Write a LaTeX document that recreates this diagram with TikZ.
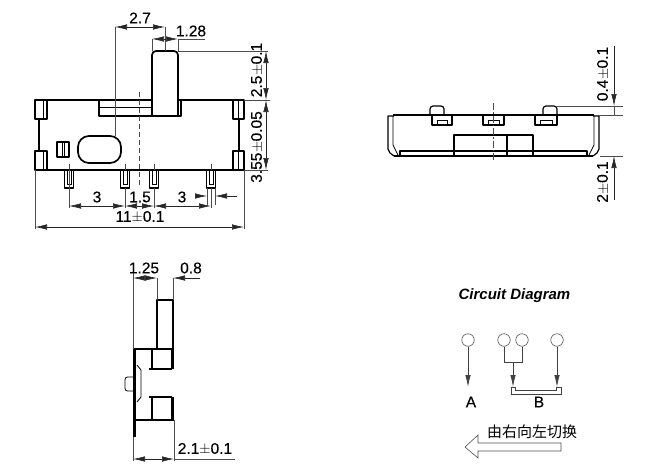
\documentclass[tikz,border=0pt]{standalone}
\usepackage{fontspec}
\setmainfont{Liberation Sans}
\newfontfamily\dimfont[FakeBold = 0.35]{Liberation Sans}
\newfontfamily\cjkfont{Noto Sans CJK SC}
\usetikzlibrary{arrows.meta}
\usetikzlibrary{positioning}
\begin{document}
\begin{tikzpicture}
		[
			x = 1pt, y = -1pt,
			> = {Latex[length = 12pt, width = 5.5pt]},
			outline/.style = {draw = black, line width = 1.7pt, line join = round},
			detail/.style = {draw = black, line width = 0.8pt},
			extline/.style = {draw = black!70, line width = 0.5pt},
			dimline/.style = {draw = black!85, line width = 0.6pt, <->},
			tipend/.style = {draw = black!85, line width = 0.6pt, ->},
			centerline/.style = {draw = black!70, line width = 0.6pt, dash pattern = on 5pt off 3pt},
			dimlabel/.style = {inner sep = 0pt, text = black, font = \dimfont\fontsize{15.5}{15.5}\selectfont},
			vertlabel/.style = {dimlabel, rotate = 90},
			wire/.style = {draw = black!75, line width = 0.8pt},
			terminal/.style = {circle, draw = black!70, line width = 0.6pt, minimum size = 12.5pt, inner sep = 0pt},
		]
			\useasboundingbox (0,0) rectangle (672,474);
			%
			% front view
			\draw [outline] (35,100) -- (244,100);
			\draw [outline] (35,170) -- (244,170);
			\draw [outline] (39,119) -- (39,151);
			\draw [outline] (239,119) -- (239,151);
			\draw [outline, line width = 1.4pt] (35,100) rectangle (47,119);
			\draw [outline, line width = 1.4pt] (35,151) rectangle (47,170);
			\draw [outline, line width = 1.4pt] (233,100) rectangle (244,119);
			\draw [outline, line width = 1.4pt] (233,151) rectangle (244,170);
			\draw [detail] (43,100) -- (43,119) (43,151) -- (43,170);
			\draw [detail] (238,100) -- (238,119) (238,151) -- (238,170);
			\draw [outline] (99,100) rectangle (181,116);
			\draw [detail] (99,107) -- (152,107);
			\draw [outline, fill = white, rounded corners = 4pt] (152,116) -- (152,51) -- (178,51) -- (178,116);
			\draw [outline] (99,116) -- (181,116);
			\draw [outline] (57,142) rectangle (69,157);
			\draw [detail] (62,142) -- (62,157) (64,142) -- (64,157);
			\draw [outline, rounded corners = 11pt] (78,136) rectangle (121,163);
			\foreach \pinx in {69,125,154,211}
			{
				\draw [outline, line width = 1.2pt] (\pinx-4.5,170) rectangle (\pinx+4.5,188);
				\draw [detail, line width = 0.4pt] (\pinx-2,170) -- (\pinx-2,184) -- (\pinx+2,184) -- (\pinx+2,170);
				\draw [extline] (\pinx,164) -- (\pinx,170);
			}
			\draw [centerline] (139,92) -- (139,188);
			%
			% front view dimensions
			\draw [extline] (115,27) -- (115,136);
			\draw [extline] (165,27) -- (165,51);
			\draw [dimline] (115,27) -- (165,27);
			\node (dimtop) [dimlabel] at (140,18) {2.7};
			\draw [extline] (152,39) -- (152,51);
			\draw [extline] (178,39) -- (205,39);
			\draw [extline] (178,39) -- (178,51);
			\draw [dimline] (152,39) -- (178,39);
			\node (dimslider) [dimlabel] at (191,31) {1.28};
			\draw [extline] (178,51) -- (268,51);
			\draw [extline] (244,100) -- (270,100);
			\draw [extline] (244,170) -- (268,170);
			\draw [dimline] (266,51) -- (266,100);
			\draw [dimline] (266,100) -- (266,170);
			\node (dimupper) [vertlabel] at (257,70) {2.5$\pm$0.1};
			\node (dimlower) [vertlabel] at (257,147) {3.55$\pm$0.05};
			\draw [extline] (69,170) -- (69,208);
			\draw [extline] (125,188) -- (125,208);
			\draw [extline] (154,188) -- (154,208);
			\draw [extline] (211,188) -- (211,208);
			\draw [dimline] (69,206) -- (125,206);
			\draw [dimline] (125,206) -- (154,206);
			\draw [dimline] (154,206) -- (211,206);
			\node (dimpinleft) [dimlabel] at (97,197) {3};
			\node (dimpinmid) [dimlabel] at (140,197) {1.5};
			\node (dimpinright) [dimlabel] at (182,197) {3};
			\draw [extline] (207,188) -- (207,205);
			\draw [extline] (215,188) -- (215,205);
			\draw [tipend] (195,196) -- (207,196);
			\draw [tipend] (237,196) -- (215,196);
			\draw [extline] (35,170) -- (35,229);
			\draw [extline] (244,170) -- (244,229);
			\draw [dimline] (35,227) -- (244,227);
			\node (dimwidth) [dimlabel] at (140,217) {11$\pm$0.1};
			%
			% end view
			\draw [outline] (393,115) -- (594,115);
			\draw [outline] (394,156) -- (593,156);
			\draw [outline, line width = 1.2pt] (394,116) -- (388,116) -- (388,149) -- (390,153) -- (394,156);
			\draw [outline, line width = 1.2pt] (593,116) -- (599,116) -- (599,149) -- (597,153) -- (593,156);
			\draw [detail] (393,116) -- (393,136) -- (393,145) -- (398,155);
			\draw [detail] (594,116) -- (594,136) -- (594,145) -- (589,155);
			\draw [outline, line width = 1.2pt] (400,156) -- (400,151) -- (587,151) -- (587,156);
			\draw [outline, line width = 1.3pt] (454,156) -- (454,135) -- (533,135) -- (533,156);
			\draw [outline, line width = 1.3pt] (507,135) -- (507,156);
			\foreach \tabx/\tabw in {432/20,483/21,535/22}
			{
				\draw [outline, line width = 1.3pt] (\tabx,115) -- (\tabx,125) -- (\tabx+\tabw,125) -- (\tabx+\tabw,115);
				\draw [detail] (\tabx+5,125) -- (\tabx+5,120) -- (\tabx+\tabw-5,120) -- (\tabx+\tabw-5,125);
			}
			\draw [outline, line width = 1.2pt, rounded corners = 3pt] (430,115) -- (430,106) -- (444,106) -- (444,115);
			\draw [outline, line width = 1.2pt, rounded corners = 3pt] (543,115) -- (543,106) -- (557,106) -- (557,115);
			\draw [centerline, dash pattern = on 7pt off 2pt on 1.5pt off 2pt] (493,103) -- (493,160);
			%
			% end view dimensions
			\draw [extline] (557,106) -- (623,106);
			\draw [extline] (594,115) -- (623,115);
			\draw [extline] (600,156) -- (623,156);
			\draw [tipend] (614,46) -- (614,106);
			\draw [extline] (614,106) -- (614,115);
			\draw [tipend] (614,200) -- (614,156);
			\node (dimbump) [vertlabel] at (603,74) {0.4$\pm$0.1};
			\node (dimdepth) [vertlabel] at (603,182) {2$\pm$0.1};
			%
			% side view
			\draw [outline, line width = 1.4pt] (157,349) -- (157,300) -- (173,300) -- (173,349);
			\draw [outline] (133,349) -- (174,349);
			\draw [outline] (134,420) -- (174,420);
			\draw [outline, line width = 3pt] (134.5,349) -- (134.5,437);
			\draw [detail] (137,365) -- (141,370) -- (141,397) -- (137,402);
			\draw [detail, rounded corners = 2.5pt] (133,377) -- (125,377) -- (125,391) -- (133,391);
			\draw [outline] (152,349) -- (152,369);
			\draw [outline] (149,369) -- (172,369);
			\draw [outline] (149,397) -- (172,397);
			\draw [outline] (152,397) -- (152,420);
			\draw [outline, line width = 2.2pt] (173,349) -- (173,369);
			\draw [outline, line width = 2.2pt] (173,397) -- (173,420);
			\draw [detail] (171,349) -- (171,369) (171,397) -- (171,420);
			%
			% side view dimensions
			\draw [extline] (133,272) -- (133,349);
			\draw [extline] (157,278) -- (157,300);
			\draw [extline] (173,278) -- (173,300);
			\draw [dimline] (133,278) -- (157,278);
			\draw [tipend] (200,278) -- (173,278);
			\node (dimthrow) [dimlabel] at (144,268) {1.25};
			\node (dimknob) [dimlabel] at (191,268) {0.8};
			\draw [extline] (133,437) -- (133,461);
			\draw [extline] (174,420) -- (174,461);
			\draw [dimline] (133,459) -- (174,459);
			\draw [extline] (174,459) -- (235,459);
			\node (dimside) [dimlabel] at (205,449) {2.1$\pm$0.1};
			%
			% circuit
			\node (title) at (514.5,296) {\fontsize{15}{15}\selectfont\bfseries\itshape Circuit Diagram};
			\node (termA) [terminal] at (468,340) {};
			\node (termBa) [terminal] at (504,340) {};
			\node (termBb) [terminal] at (522,340) {};
			\node (termBc) [terminal] at (557,340) {};
			\coordinate (endA) at (468,387);
			\coordinate (fork) at (513,362);
			\coordinate (endBa) at (513,387);
			\coordinate (endBc) at (557,387);
			\draw [wire, ->] (termA) -- (endA);
			\draw [wire] (termBa) |- (fork);
			\draw [wire] (termBb) |- (fork);
			\draw [wire, ->] (fork) -- (endBa);
			\draw [wire, ->] (termBc) -- (endBc);
			\draw [wire] (511,387) -- (515,387) -- (515,390) -- (556,390) -- (556,387) -- (561,387) -- (561,394) -- (511,394) -- cycle;
			\node (labelA) [dimlabel] at (471,402) {A};
			\node (labelB) [dimlabel] at (539,402) {B};
			\node (direction) [inner sep = 0pt] at (532,432) {\cjkfont\fontsize{15}{15}\selectfont 由右向左切换};
			\draw [draw = black!70, line width = 0.6pt] (561,443) -- (478,443) -- (478,435) -- (465,447) -- (478,458) -- (478,451) -- (561,451) -- cycle;
			%
		\end{tikzpicture}
\end{document}
